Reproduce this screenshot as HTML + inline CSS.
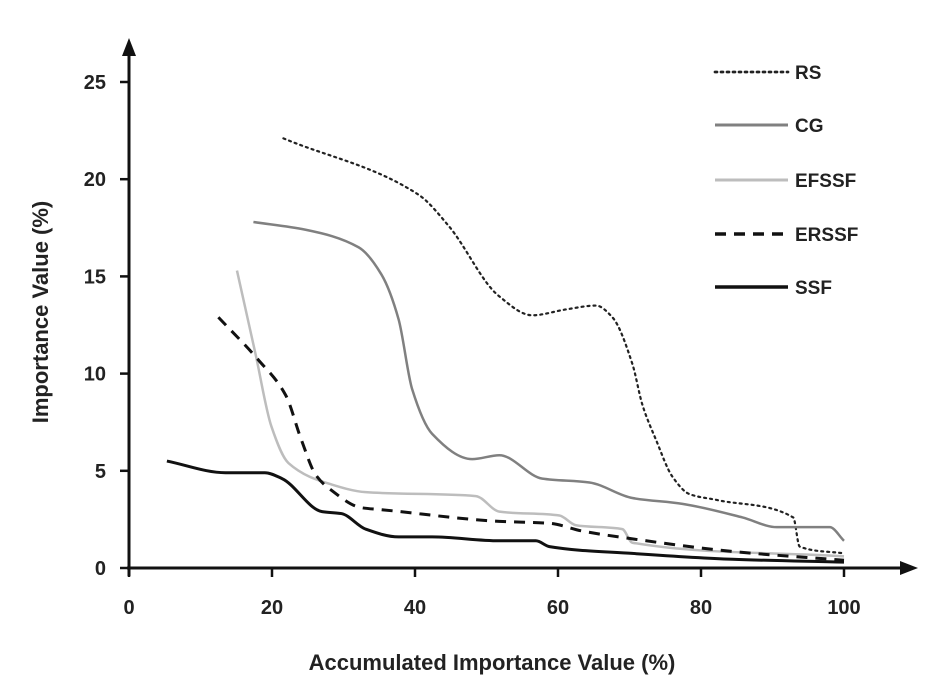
<!DOCTYPE html>
<html><head><meta charset="utf-8"><style>
html,body{margin:0;padding:0;background:#fff;}
svg{display:block;font-family:"Liberation Sans",sans-serif;font-weight:bold;}
</style></head><body>
<svg id="chart" width="936" height="696" viewBox="0 0 936 696"></svg>
<script>
const xTicks=[0,20,40,60,80,100];
const yTicks=[0,5,10,15,20,25];
const seriesNames=["RS","CG","EFSSF","ERSSF","SSF"];
const rsX=[21.6,40.5,44.7,51.7,56.4,61.1,65.3,67.6,70.4,71.8,73.7,76,78.4,82.2,92.9,93.8,100];
const rsY=[22.1,19.2,17.6,14.0,13.0,13.3,13.5,12.9,10.5,8.4,6.6,4.7,3.8,3.5,2.6,1.1,0.75];
const cgX=[17.4,24.7,32.1,35.3,37.7,39.6,42.4,48,51.8,57.8,64.4,70.4,77.4,85.8,90.6,98,100];
const cgY=[17.8,17.4,16.5,15.1,12.8,9.2,6.9,5.6,5.8,4.6,4.4,3.6,3.3,2.6,2.1,2.1,1.4];
const efX=[15.1,17.7,19.9,22.3,28.3,33.1,48.5,51.8,60.2,62.5,69,70.4,100];
const efY=[15.3,11.0,7.3,5.4,4.3,3.9,3.7,2.9,2.7,2.2,2.0,1.3,0.6];
const erX=[12.5,18.1,21.9,24.1,26.1,28.3,32.5,35.3,51.8,58.8,63.4,70.4,84.4,100];
const erY=[12.9,10.7,8.9,6.6,4.8,4.0,3.1,3.0,2.4,2.3,1.9,1.5,0.85,0.4];
const ssfX=[5.3,13.5,19,21.4,27,29.7,33.1,37.7,42.4,51.8,56.9,58.8,70.4,84.4,100];
const ssfY=[5.5,4.9,4.9,4.6,2.9,2.8,2.0,1.6,1.6,1.4,1.4,1.1,0.75,0.45,0.3];

const NS="http://www.w3.org/2000/svg";
const svg=document.getElementById('chart');
const X0=129,X1=844,Y0=568,Y25=82;
const sx=v=>X0+(X1-X0)*v/100;
const sy=v=>Y0-(Y0-Y25)*v/25;
function mk(tag,attrs,parent){const e=document.createElementNS(NS,tag);for(const k in attrs)e.setAttribute(k,attrs[k]);(parent||svg).appendChild(e);return e;}

let a=mk('line',{x1:X0-2,y1:Y0,x2:905,y2:Y0,stroke:'#111','stroke-width':3});


a=mk('polygon',{points:`918,${Y0} 900,${Y0-7} 900,${Y0+7}`,fill:'#111'});


a=mk('line',{x1:X0,y1:Y0+8,x2:X0,y2:52,stroke:'#111','stroke-width':3});


a=mk('polygon',{points:`${X0},38 ${X0-7},56 ${X0+7},56`,fill:'#111'});



xTicks.forEach(t=>{
  const l=mk('line',{x1:sx(t),y1:Y0,x2:sx(t),y2:Y0+9,stroke:'#111','stroke-width':2.5});
  
  
  const tx=mk('text',{x:sx(t),y:614,'text-anchor':'middle','font-size':20,fill:'#222'});
  tx.textContent=t;
  
  
});
yTicks.forEach(t=>{
  const l=mk('line',{x1:X0-9,y1:sy(t),x2:X0,y2:sy(t),stroke:'#111','stroke-width':2.5});
  
  
  const tx=mk('text',{x:106,y:sy(t)+7,'text-anchor':'end','font-size':20,fill:'#222'});
  tx.textContent=t;
  
  
});
let t=mk('text',{x:492,y:670,'text-anchor':'middle','font-size':22,fill:'#222'});
t.textContent='Accumulated Importance Value (%)';


t=mk('text',{x:0,y:0,'text-anchor':'middle','font-size':22,fill:'#222',transform:'translate(48,312) rotate(-90)'});
t.textContent='Importance Value (%)';



function smooth(xs,ys){
  const px=xs.map(sx),py=ys.map(sy),n=px.length;
  const d=[],m=[];
  for(let i=0;i<n-1;i++)d.push((py[i+1]-py[i])/(px[i+1]-px[i]));
  for(let i=0;i<n;i++){
    if(i===0)m.push(d[0]);else if(i===n-1)m.push(d[n-2]);
    else if(d[i-1]*d[i]<=0)m.push(0);
    else{const w1=2*(px[i+1]-px[i])+(px[i]-px[i-1]),w2=(px[i+1]-px[i])+2*(px[i]-px[i-1]);m.push((w1+w2)/(w1/d[i-1]+w2/d[i]));}
  }
  let s=`M${px[0]},${py[0]}`;
  for(let i=0;i<n-1;i++){
    const h=(px[i+1]-px[i])/3;
    s+=` C${px[i]+h},${py[i]+m[i]*h} ${px[i+1]-h},${py[i+1]-m[i+1]*h} ${px[i+1]},${py[i+1]}`;
  }
  return s;
}
const styles=[
  {xs:rsX,ys:rsY,stroke:'#222',w:2.2,dash:'2 4',name:'rs-line'},
  {xs:cgX,ys:cgY,stroke:'#808080',w:2.5,dash:'',name:'cg-line'},
  {xs:efX,ys:efY,stroke:'#bdbdbd',w:2.5,dash:'',name:'efssf-line'},
  {xs:erX,ys:erY,stroke:'#111',w:3,dash:'11 8',name:'erssf-line'},
  {xs:ssfX,ys:ssfY,stroke:'#111',w:3,dash:'',name:'ssf-line'}
];
const legY=[72,125,180,234,287];
styles.forEach((s,i)=>{
  const p=mk('path',{d:smooth(s.xs,s.ys),fill:'none',stroke:s.stroke,'stroke-width':s.w,'stroke-dasharray':s.dash,'stroke-linecap':s.dash.startsWith('2')?'round':'butt'});
  
  
  const g=mk('g',{});
  
  
  mk('line',{x1:715,y1:legY[i],x2:788,y2:legY[i],stroke:s.stroke,'stroke-width':s.w+0.5,'stroke-dasharray':s.dash,'stroke-linecap':s.dash.startsWith('2')?'round':'butt'},g);
  const tx=mk('text',{x:795,y:legY[i]+7,'font-size':19,fill:'#222'},g);
  tx.textContent=seriesNames[i];
});
</script>
</body></html>
